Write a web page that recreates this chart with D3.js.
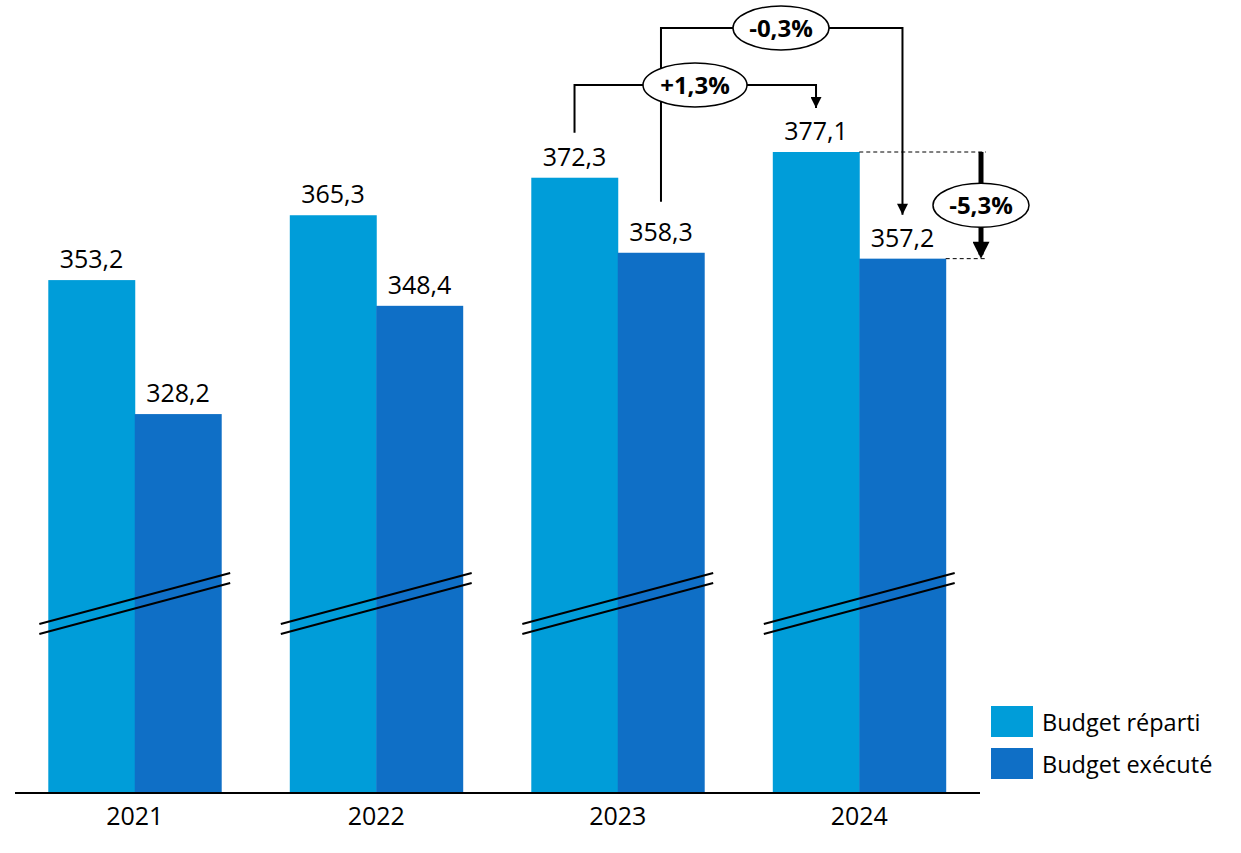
<!DOCTYPE html>
<html><head><meta charset="utf-8">
<script src="https://cdn.jsdelivr.net/npm/d3@7"></script>
<style>body{margin:0;background:#fff}svg{display:block}</style>
</head><body>
<svg id="c" width="1241" height="853"></svg>
<script>
const years = ["2021","2022","2023","2024"];
const seriesNames = ["Budget réparti","Budget exécuté"];
const reparti = [353.2, 365.3, 372.3, 377.1];
const execute = [328.2, 348.4, 358.3, 357.2];
const colors = ["#009DD9","#0F6FC6"];
const changeLabels = ["+1,3%","-0,3%","-5,3%"];

const svg = d3.select("#c");
const font = "'Open Sans', sans-serif";
const x = d3.scaleBand().domain(years).range([14,980]).paddingInner(0.284).paddingOuter(0.142);
const xs = d3.scaleBand().domain([0,1]).range([0,x.bandwidth()]);
const y = d3.scaleLinear().domain([257.5,377.1]).range([793,152]);
const data = years.map((yr,i)=>({yr, vals:[reparti[i],execute[i]]}));

const g = svg.selectAll("g.grp").data(data).join("g").attr("class","grp")
  .attr("transform",d=>`translate(${x(d.yr)},0)`);
g.selectAll("rect").data(d=>d.vals).join("rect")
  .attr("x",(v,j)=>xs(j)).attr("width",xs.bandwidth()+(0.5))
  .attr("y",v=>y(v)).attr("height",v=>y.range()[0]-y(v)).attr("fill",(v,j)=>colors[j]);
g.selectAll("text.val").data(d=>d.vals).join("text").attr("class","val")
  .attr("x",(v,j)=>xs(j)+xs.bandwidth()/2).attr("y",v=>y(v)-12)
  .attr("text-anchor","middle").attr("font-family",font).attr("font-size",25).attr("fill","#000")
  .text(v=>v.toFixed(1).replace(".",","));
// break marks
[0,10].forEach(off=>{
  g.append("line").attr("x1",-9).attr("x2",x.bandwidth()+9)
   .attr("y1",624+off).attr("y2",573+off).attr("stroke","#000").attr("stroke-width",2);
});

// axis
const ax = svg.append("g").attr("transform","translate(0,793)")
  .call(d3.axisBottom(x).tickSize(0).tickPadding(14));
ax.select(".domain").attr("d","M15,0H980").attr("stroke","#000").attr("stroke-width",2);
ax.selectAll("text").attr("font-family",font).attr("font-size",25).attr("fill","#000");

// legend
const lg = svg.selectAll("g.lg").data(seriesNames).join("g").attr("class","lg")
  .attr("transform",(d,i)=>`translate(991,${706+i*42})`);
lg.append("rect").attr("width",42).attr("height",31).attr("fill",(d,i)=>colors[i]);
lg.append("text").attr("x",51).attr("y",25).attr("font-family",font).attr("font-size",23.5).attr("fill","#000").text(d=>d);

// annotations
const defs = svg.append("defs");
defs.append("marker").attr("id","ah").attr("viewBox","0 0 10 10").attr("refX",10).attr("refY",5)
  .attr("markerWidth",12).attr("markerHeight",11).attr("markerUnits","userSpaceOnUse").attr("orient","auto")
  .append("path").attr("d","M0,0L10,5L0,10Z").attr("fill","#000");
defs.append("marker").attr("id","ah2").attr("viewBox","0 0 10 10").attr("refX",10).attr("refY",5)
  .attr("markerWidth",18).attr("markerHeight",17).attr("markerUnits","userSpaceOnUse").attr("orient","auto")
  .append("path").attr("d","M0,0L10,5L0,10Z").attr("fill","#000");

const cx = (yr,j)=>x(yr)+xs(j)+xs.bandwidth()/2;
function bracket(x1,y1,x2,y2,ly,label,ex,rx){
  svg.append("path").attr("d",`M${x1},${y1}V${ly}H${x2}V${y2}`)
    .attr("fill","none").attr("stroke","#000").attr("stroke-width",2).attr("marker-end","url(#ah)");
  svg.append("ellipse").attr("cx",ex).attr("cy",ly).attr("rx",rx).attr("ry",22)
    .attr("fill","#fff").attr("stroke","#000").attr("stroke-width",1.5);
  svg.append("text").attr("x",ex).attr("y",ly+8.5).attr("text-anchor","middle")
    .attr("font-family",font).attr("font-weight","bold").attr("font-size",24).text(label);
}
bracket(cx("2023",1), y(execute[2])-51, cx("2024",1), y(execute[3])-44, 28, changeLabels[1], 781, 48);
bracket(cx("2023",0), y(reparti[2])-45, cx("2024",0), y(reparti[3])-44, 85, changeLabels[0], 695, 52);

// -5,3% dashed + thick arrow
const ax5 = 981;
svg.append("line").attr("x1",x("2024")+xs(1)).attr("x2",986).attr("y1",y(reparti[3])).attr("y2",y(reparti[3]))
  .attr("stroke","#000").attr("stroke-width",1).attr("stroke-dasharray","4,3");
svg.append("line").attr("x1",x("2024")+x.bandwidth()).attr("x2",986).attr("y1",y(execute[3])).attr("y2",y(execute[3]))
  .attr("stroke","#000").attr("stroke-width",1).attr("stroke-dasharray","4,3");
svg.append("line").attr("x1",ax5).attr("x2",ax5).attr("y1",y(reparti[3])).attr("y2",y(execute[3])-4)
  .attr("stroke","#000").attr("stroke-width",5);
svg.append("line").attr("x1",ax5).attr("x2",ax5).attr("y1",y(execute[3])-20).attr("y2",y(execute[3]))
  .attr("stroke","none").attr("marker-end","url(#ah2)");
const my = (y(reparti[3])+y(execute[3]))/2;
svg.append("ellipse").attr("cx",ax5).attr("cy",my).attr("rx",48).attr("ry",22)
  .attr("fill","#fff").attr("stroke","#000").attr("stroke-width",1.5);
svg.append("text").attr("x",ax5).attr("y",my+8.5).attr("text-anchor","middle")
  .attr("font-family",font).attr("font-weight","bold").attr("font-size",24).text(changeLabels[2]);
</script>
</body></html>
